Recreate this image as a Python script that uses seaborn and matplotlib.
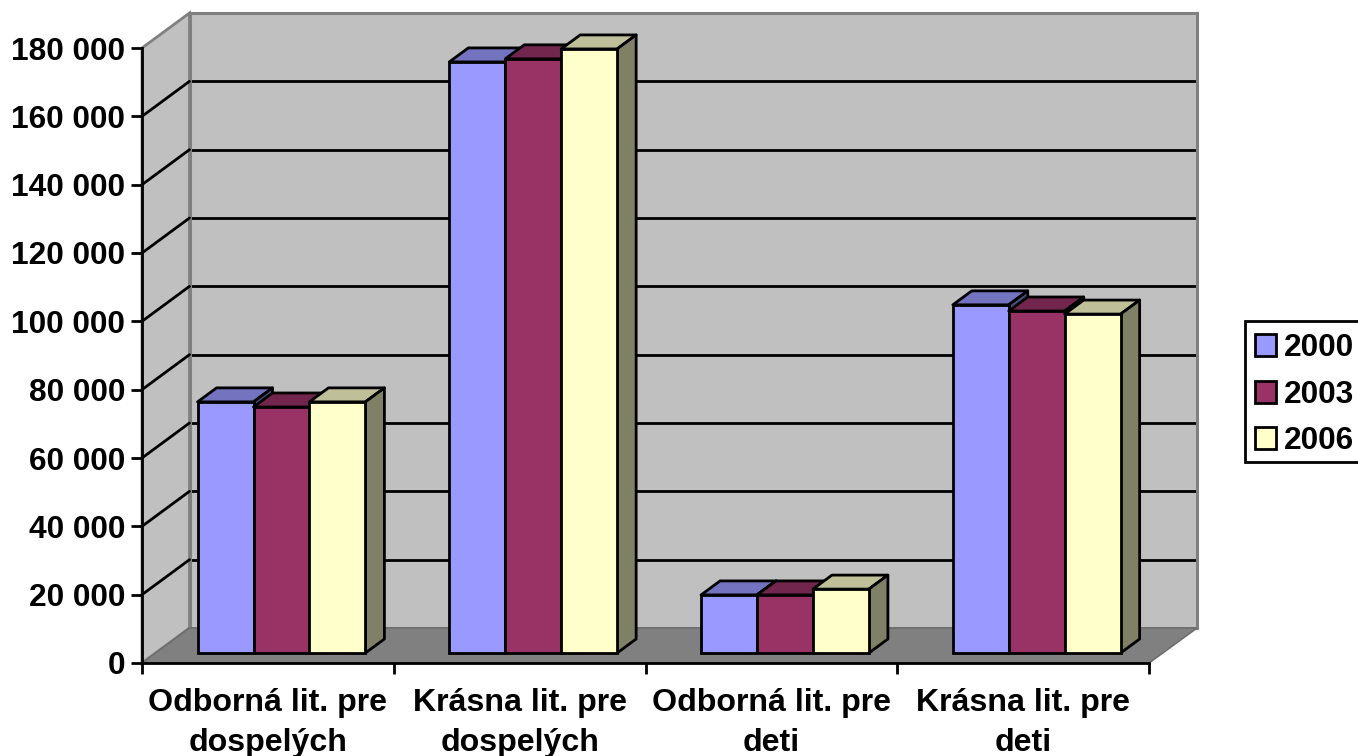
import matplotlib
matplotlib.use("Agg")
import matplotlib.pyplot as plt
from matplotlib.patches import Polygon, Rectangle
from matplotlib.transforms import IdentityTransform
from matplotlib.lines import Line2D
import pandas as pd
import seaborn as sns

categories = ["Odborná lit. pre\ndospelých", "Krásna lit. pre\ndospelých",
              "Odborná lit. pre\ndeti", "Krásna lit. pre\ndeti"]
years = ["2000", "2003", "2006"]
values_2000 = [73500, 173000, 17000, 101900]
values_2003 = [72000, 173900, 17000, 100100]
values_2006 = [73500, 176800, 18700, 99200]
tick_values = list(range(0, 180001, 20000))
tick_labels = ["0", "20 000", "40 000", "60 000", "80 000", "100 000",
               "120 000", "140 000", "160 000", "180 000"]
front_colors = ["#9999FF", "#993366", "#FFFFCC"]
top_colors = ["#7373BF", "#73264D", "#BFBF99"]
side_colors = ["#4D4D80", "#4D1A33", "#808066"]

W, H = 1358, 756
sns.set_style("white")
plt.rcParams["font.family"] = ["Liberation Sans", "DejaVu Sans"]
plt.rcParams["font.weight"] = "bold"
plt.rcParams["text.color"] = "black"
plt.rcParams["xtick.labelcolor"] = "black"
plt.rcParams["ytick.labelcolor"] = "black"
FS = 22.8
LW = 2.0

fig = plt.figure(figsize=(W / 100, H / 100), dpi=100, facecolor="white")


def add_plane(dx, dy, zorder):
    a = fig.add_axes([(142 + dx) / W, (H - 663 + dy) / H, 1007 / W, 615 / H], zorder=zorder)
    a.set_xlim(-0.5, 3.5)
    a.set_ylim(0, 180000)
    a.patch.set_alpha(0)
    return a


# back wall
back = add_plane(47.5, 35, 0)
back.patch.set_alpha(1)
back.set_facecolor("#C0C0C0")
back.set_xticks([])
back.set_yticks(tick_values)
back.tick_params(left=False, labelleft=False)
back.grid(axis="y", color="black", lw=LW)
for s in back.spines.values():
    s.set_color("#808080")
    s.set_linewidth(2.2)
    s.set_visible(True)


def px(pts):
    return [(x, H - y) for x, y in pts]


tr = IdentityTransform()
back.add_patch(Polygon(px([(142, 663), (189.5, 628), (189.5, 13), (142, 48)]), closed=True,
                       facecolor="#C0C0C0", edgecolor="#808080", lw=2.0,
                       transform=tr, clip_on=False, zorder=5))
back.add_patch(Polygon(px([(142, 663), (1149, 663), (1197, 628), (189.5, 628)]), closed=True,
                       facecolor="#808080", edgecolor="#6E6E6E", lw=1.2,
                       transform=tr, clip_on=False, zorder=5))

# front plane: axes, ticks and labels
front = add_plane(0, 0, 1)
front.set_yticks(tick_values)
front.set_yticklabels(tick_labels, fontsize=FS, fontweight="bold")
front.set_xticks([-0.5, 0.5, 1.5, 2.5, 3.5])
front.set_xticklabels([])
front.set_xticks([0, 1, 2, 3], minor=True)
front.set_xticklabels(categories, minor=True, fontsize=23.1, fontweight="bold", linespacing=1.42)
front.tick_params(axis="both", which="major", length=8, width=LW, color="black", left=True, bottom=True, pad=4)
front.tick_params(axis="x", which="minor", length=0, pad=18)
for name, s in front.spines.items():
    s.set_visible(name in ("left", "bottom"))
    s.set_color("black")
    s.set_linewidth(LW)
for v in tick_values[1:-1]:
    yp = front.transData.transform((0, v))[1]
    xp = front.transData.transform((-0.5, 0))[0]
    front.add_line(Line2D([xp, xp + 47.5], [yp, yp + 35], color="black", lw=LW,
                          transform=tr, clip_on=False))

# bars
bars = add_plane(13.6, 10, 2)
df = pd.DataFrame({
    "category": categories * 3,
    "year": sum([[y] * 4 for y in years], []),
    "value": values_2000 + values_2003 + values_2006,
})
sns.barplot(data=df, x="category", y="value", hue="year", hue_order=years, order=categories,
            palette=front_colors, saturation=1, width=2 / 3, gap=0, dodge=True,
            edgecolor="black", linewidth=LW, ax=bars)
bars.set_xlim(-0.5, 3.5)
bars.set_ylim(0, 180000)

DX, DY = 19, 14
for h, cont in enumerate(bars.containers):
    for c, r in enumerate(cont):
        z = 10 + c * 10 + h * 2
        r.set_zorder(z + 1)
        r.set_clip_on(False)
        x0, y0 = bars.transData.transform((r.get_x(), r.get_y()))
        x1, y1 = bars.transData.transform((r.get_x() + r.get_width(), r.get_y() + r.get_height()))
        bars.add_patch(Polygon([(x0, y1), (x1, y1), (x1 + DX, y1 + DY), (x0 + DX, y1 + DY)],
                               closed=True, facecolor=top_colors[h], edgecolor="black", lw=LW,
                               transform=tr, clip_on=False, zorder=z, joinstyle="round"))
        bars.add_patch(Polygon([(x1, y0), (x1 + DX, y0 + DY), (x1 + DX, y1 + DY), (x1, y1)],
                               closed=True, facecolor=side_colors[h], edgecolor="black", lw=LW,
                               transform=tr, clip_on=False, zorder=z, joinstyle="round"))

handles, labels = bars.get_legend_handles_labels()
leg = bars.legend(handles, labels, loc="upper left", bbox_to_anchor=(1242 / W, (H - 320) / H),
                  bbox_transform=fig.transFigure, fontsize=FS, frameon=False,
                  handlelength=0.66, handleheight=0.68,
                  handletextpad=0.24, labelspacing=0.52, borderpad=0.42, borderaxespad=0,
                  title=None)
for t in leg.get_texts():
    t.set_color("black")
    t.set_fontweight("bold")
leg.set_zorder(100)
bars.add_patch(Rectangle((1245, H - 462), 120, 141, facecolor="white", edgecolor="black",
                         lw=LW, transform=tr, clip_on=False, zorder=99))
bars.axis("off")

fig.savefig("out.png", dpi=100, facecolor="white")
